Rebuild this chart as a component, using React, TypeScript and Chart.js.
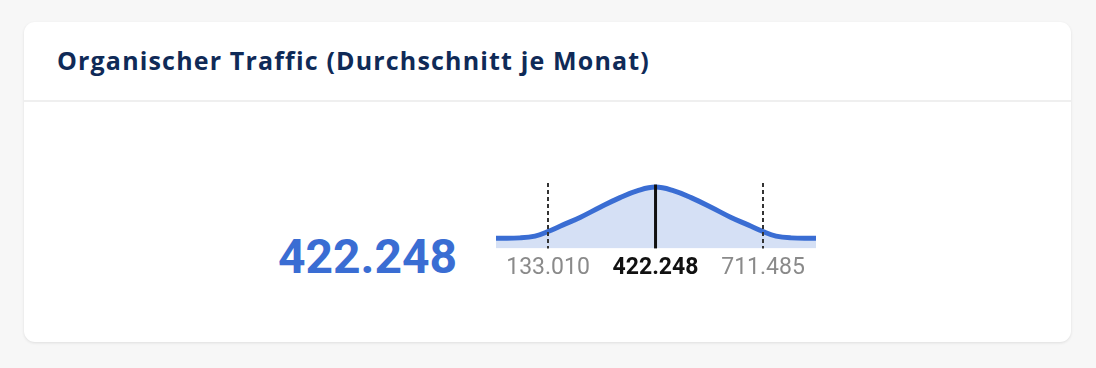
import React, { useEffect, useRef } from "react";
import { Chart, registerables } from "chart.js";

Chart.register(...registerables);

const TITLE = "Organischer Traffic (Durchschnitt je Monat)";
const MEAN = 422248;
const LOWER = 133010;
const UPPER = 711485;
const X_MIN = -7000;
const X_MAX = 854000;

const trafficValues = [
  -7000, 57700, 98000, 133010, 173400, 219100, 272900, 326700, 372500, 422248,
  472000, 517800, 571600, 625500, 671200, 711485, 746500, 786800, 854000,
];
const densityValues = [
  10, 10.3, 12, 16.5, 23, 30.3, 40.3, 49.7, 56.3, 60,
  56.3, 49.7, 40.3, 30.3, 23, 16.5, 12, 10.3, 10,
];
const tickValues = [LOWER, MEAN, UPPER];

const fmt = (v: number) => v.toLocaleString("de-DE");

const markerPlugin = {
  id: "markers",
  afterDatasetsDraw(chart: any) {
    const { ctx, chartArea, scales } = chart;
    const x = scales.x;
    const y = scales.y;
    ctx.save();
    ctx.strokeStyle = "#333";
    ctx.lineWidth = 2;
    ctx.setLineDash([4, 3]);
    [LOWER, UPPER].forEach((v) => {
      const px = Math.round(x.getPixelForValue(v));
      ctx.beginPath();
      ctx.moveTo(px, chartArea.top);
      ctx.lineTo(px, chartArea.bottom);
      ctx.stroke();
    });
    ctx.setLineDash([]);
    ctx.strokeStyle = "#111";
    ctx.lineWidth = 3;
    const idx = trafficValues.indexOf(MEAN);
    const peak = y.getPixelForValue(densityValues[idx]);
    const mx = x.getPixelForValue(MEAN);
    ctx.beginPath();
    ctx.moveTo(mx, peak - 2.5);
    ctx.lineTo(mx, chartArea.bottom);
    ctx.stroke();
    ctx.restore();
  },
};

function Title() {
  const ref = useRef<HTMLDivElement | null>(null);
  useEffect(() => {
    const el = ref.current;
    if (!el) return;
    const target = 593;
    const w = el.getBoundingClientRect().width;
    const ls = (target - w) / TITLE.length;
    el.style.letterSpacing = ls + "px";
  }, []);
  return (
    <div
      ref={ref}
      style={{
        position: "absolute",
        left: 33,
        top: 20,
        fontFamily: "'Open Sans', sans-serif",
        fontWeight: 700,
        fontSize: 25,
        lineHeight: "36px",
        color: "#0f2a57",
        whiteSpace: "nowrap",
        display: "inline-block",
      }}
    >
      {TITLE}
    </div>
  );
}

export default function App() {
  const canvasRef = useRef<HTMLCanvasElement | null>(null);

  useEffect(() => {
    document.body.style.margin = "0";
    document.body.style.background = "#f7f7f7";
    const canvas = canvasRef.current;
    if (!canvas) return;
    const chart = new Chart(canvas, {
      type: "line",
      data: {
        datasets: [
          {
            data: trafficValues.map((t, i) => ({ x: t, y: densityValues[i] })),
            borderColor: "#3a6dd3",
            backgroundColor: "#d5e0f5",
            borderWidth: 5,
            fill: "origin",
            tension: 0.4,
            pointRadius: 0,
            pointHoverRadius: 0,
          },
        ],
      },
      options: {
        animation: false,
        responsive: false,
        maintainAspectRatio: false,
        layout: { padding: 0 },
        plugins: {
          legend: { display: false },
          tooltip: { enabled: false },
        },
        scales: {
          x: {
            type: "linear",
            min: X_MIN,
            max: X_MAX,
            grid: { display: false, drawTicks: false },
            border: { display: false },
            afterBuildTicks: (axis: any) => {
              axis.ticks = tickValues.map((v) => ({ value: v }));
            },
            ticks: {
              padding: 6,
              autoSkip: false,
              maxRotation: 0,
              callback: (v: any) => fmt(Number(v)),
              color: (c: any) => (c.tick && c.tick.value === MEAN ? "#111" : "#8a8a8a"),
              font: (c: any) => ({
                family: "Roboto",
                size: 23,
                weight: c.tick && c.tick.value === MEAN ? "bold" : "normal",
              }),
            },
          },
          y: {
            display: false,
            min: 0,
            max: 64,
          },
        },
      },
      plugins: [markerPlugin],
    });
    return () => chart.destroy();
  }, []);

  return (
    <div style={{ position: "relative", width: 1096, height: 368, background: "#f7f7f7", overflow: "hidden" }}>
      <div
        style={{
          position: "absolute",
          left: 24,
          top: 22,
          width: 1047,
          height: 320,
          background: "#fff",
          borderRadius: 11,
          boxShadow: "0 1px 3px rgba(0,0,0,0.10)",
        }}
      >
        <Title />
        <div style={{ position: "absolute", left: 0, right: 0, top: 78, height: 2, background: "#efefef" }} />
        <div
          style={{
            position: "absolute",
            left: 254,
            top: 207,
            fontFamily: "Roboto, sans-serif",
            fontWeight: 700,
            fontSize: 48,
            lineHeight: "56px",
            color: "#3a6dd3",
            whiteSpace: "nowrap",
          }}
        >
          {fmt(MEAN)}
        </div>
      </div>
      <canvas
        ref={canvasRef}
        width={320}
        height={105}
        style={{ position: "absolute", left: 496, top: 183, width: 320, height: 105 }}
      />
    </div>
  );
}
